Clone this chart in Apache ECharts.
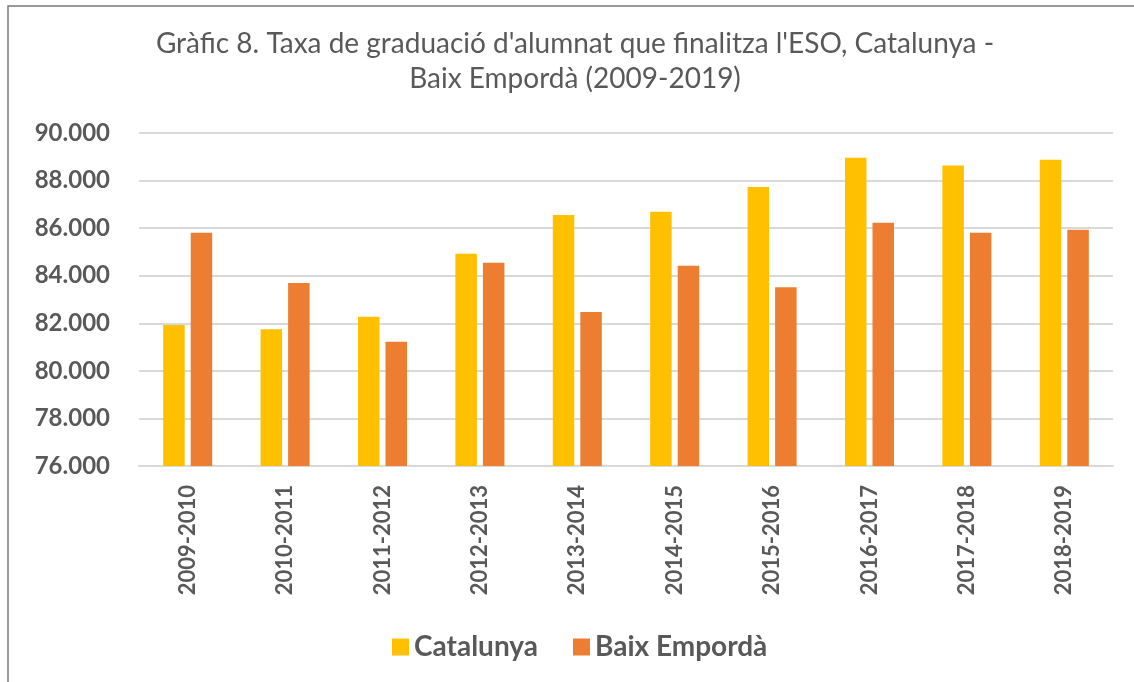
<!DOCTYPE html>
<html>
<head>
<meta charset="utf-8">
<script src="https://cdn.jsdelivr.net/npm/echarts@6/dist/echarts.min.js"></script>
<style>
  html, body { margin: 0; padding: 0; background: #fff; }
  #main { width: 1134px; height: 682px; }
</style>
</head>
<body>
<div id="main"></div>
<script>
  // dades del gràfic
  var cursos = ["2009-2010", "2010-2011", "2011-2012", "2012-2013", "2013-2014",
                "2014-2015", "2015-2016", "2016-2017", "2017-2018", "2018-2019"];
  var catalunya = [81.93, 81.75, 82.27, 84.92, 86.55, 86.69, 87.73, 88.96, 88.63, 88.88];
  var baixEmporda = [85.81, 83.69, 81.22, 84.54, 82.47, 84.42, 83.52, 86.23, 85.81, 85.93];
  var titol1 = "Gràfic 8. Taxa de graduació d'alumnat que finalitza l'ESO, Catalunya -";
  var titol2 = "Baix Empordà (2009-2019)";

  var myChart = echarts.init(document.getElementById("main"));
  var gris = "#595959";
  var option = {
    animation: false,
    textStyle: { fontFamily: "Lato" },
    graphic: [
      {
        type: "rect",
        shape: { x: 8, y: 6, width: 1400, height: 1000 },
        style: { fill: "none", stroke: "#7a7a7a", lineWidth: 1.5 },
        silent: true
      },
      {
        type: "text",
        x: 575, y: 30,
        style: { text: titol1, font: "28px Lato", fill: gris, align: "center" }
      },
      {
        type: "text",
        x: 575, y: 65,
        style: { text: titol2, font: "28px Lato", fill: gris, align: "center" }
      }
    ],
    grid: { left: 139, right: 21, top: 133, bottom: 216 },
    legend: {
      left: 387,
      top: 628,
      itemWidth: 17,
      itemHeight: 17,
      itemGap: 35,
      icon: "rect",
      textStyle: { fontSize: 28, fontWeight: "bold", color: gris, fontFamily: "Lato" },
      data: ["Catalunya", "Baix Empordà"]
    },
    xAxis: {
      type: "category",
      data: cursos,
      axisLine: { lineStyle: { color: "#d9d9d9", width: 2 } },
      axisTick: { show: false },
      axisLabel: {
        rotate: 90,
        margin: 19,
        fontSize: 22,
        fontWeight: "bold",
        color: gris,
        fontFamily: "Lato"
      }
    },
    yAxis: {
      type: "value",
      min: 76,
      max: 90,
      interval: 2,
      axisLine: { show: false },
      axisTick: { show: false },
      splitLine: { lineStyle: { color: "#d9d9d9", width: 2 } },
      axisLabel: {
        margin: 29,
        fontSize: 24,
        fontWeight: "bold",
        color: gris,
        fontFamily: "Lato",
        formatter: function (v) { return v.toFixed(3); }
      }
    },
    series: [
      {
        name: "Catalunya",
        type: "bar",
        data: catalunya,
        barWidth: 21.5,
        barGap: "28%",
        itemStyle: { color: "#FFC000" }
      },
      {
        name: "Baix Empordà",
        type: "bar",
        data: baixEmporda,
        barWidth: 21.5,
        barGap: "28%",
        itemStyle: { color: "#ED7D31" }
      }
    ]
  };
  myChart.setOption(option);
</script>
</body>
</html>
